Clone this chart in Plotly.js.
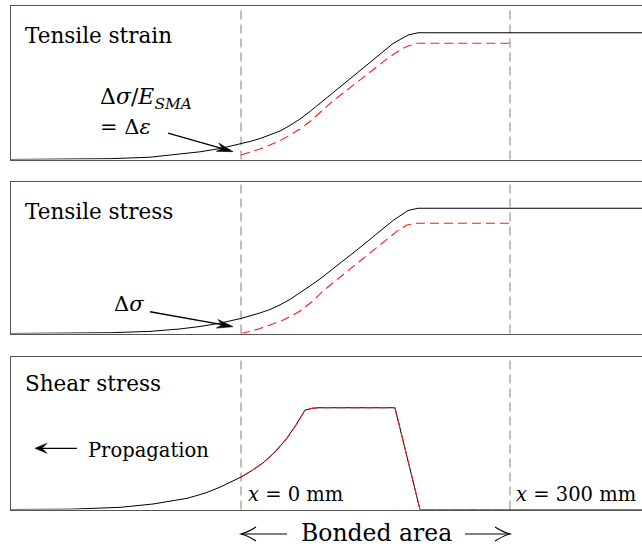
<!DOCTYPE html>
<html>
<head>
<meta charset="utf-8">
<script src="https://cdn.plot.ly/plotly-3.0.1.min.js"></script>
<style>
  html, body { margin: 0; padding: 0; background: #fff; }
  #chart { width: 642px; height: 549px; }
</style>
</head>
<body>
<div id="chart"></div>
<script>
// Position along the member in mm (x = 0 mm and x = 300 mm bound the bonded area)
const xRange = [-256.5, 447.2];
const bondStart = 0;
const bondEnd = 300;

// Tensile strain: whole member (black) and bonded region (red, dashed)
const strainTotalX = [-260, -201.9, -146.1, -101.5, -68.0, -45.7, -23.4, 0, 10.0, 21.2, 32.3, 43.5, 54.6, 65.8, 77.0, 88.1, 99.3, 140.5, 169.5, 177.3, 186.2, 197.4, 450];
const strainTotalY = [0, 0.13, 0.52, 1.49, 3.57, 5.0, 7.1, 10.1, 11.7, 13.6, 15.9, 18.5, 22.1, 26.3, 31.2, 36.4, 41.7, 61.4, 75.3, 77.9, 80.8, 82.3, 82.3];
const strainBondX = [0, 10.0, 21.2, 32.3, 43.5, 54.6, 65.8, 77.0, 88.1, 102.6, 140.5, 162.8, 177.3, 185.1, 196.3, 300];
const strainBondY = [2.9, 4.7, 6.8, 9.4, 12.3, 15.8, 19.8, 24.7, 30.5, 38.0, 55.2, 65.3, 71.1, 73.4, 75.5, 75.5];

// Tensile stress
const stressTotalX = [-260, -201.9, -146.1, -101.5, -68.0, -45.7, -23.4, 0, 10.0, 21.2, 32.3, 43.5, 54.6, 65.8, 77.0, 88.1, 129.4, 169.5, 177.3, 186.2, 197.4, 450];
const stressTotalY = [0, 0.13, 0.5, 1.4, 3.0, 4.6, 6.8, 9.9, 11.5, 13.5, 15.8, 18.8, 22.4, 26.6, 31.3, 35.9, 55.0, 74.3, 77.3, 80.9, 82.4, 82.4];
const stressBondX = [0, 10.0, 21.2, 32.3, 43.5, 54.6, 65.8, 80.3, 91.5, 132.7, 175.1, 185.1, 196.3, 300];
const stressBondY = [0, 1.3, 3.3, 5.4, 7.9, 11.0, 14.8, 21.4, 28.0, 47.7, 67.8, 71.4, 72.5, 72.5];

// Shear stress
const shearTotalX = [-260, -190.7, -134.9, -98.1, -60.2, -40.1, -23.4, 0, 12.3, 24.5, 37.9, 51.3, 61.3, 71.4, 79.2, 85.9, 171.7, 199.6, 450];
const shearTotalY = [0, 0.2, 1.4, 3.6, 7.3, 10.7, 14.6, 21.2, 25.5, 30.4, 37.6, 46.7, 55.2, 65.0, 66.1, 66.5, 66.5, 0, 0];
const shearBondX = [0, 12.3, 24.5, 37.9, 51.3, 61.3, 71.4, 79.2, 85.9, 171.7, 199.6, 300];
const shearBondY = [21.2, 25.5, 30.4, 37.6, 46.7, 55.2, 65.0, 66.1, 66.5, 66.5, 0, 0];

// Pointer arrows: head and tail in data units of their panel
const strainPointer = { head: [-8.9, 5.1], tail: [-81.4, 17.2] };
const stressPointer = { head: [-8.9, 4.5], tail: [-101.5, 14.3] };

// Labels
const panelTitles = ['Tensile strain', 'Tensile stress', 'Shear stress'];
const strainLabel1 = 'Δ<i>σ</i>/<i>E</i><sub><i>SMA</i></sub>';
const strainLabel2 = '= Δ<i>ε</i>';
const stressLabel = 'Δ<i>σ</i>';
const propagationLabel = 'Propagation';
const startLabel = '<i>x</i> = 0 mm';
const endLabel = '<i>x</i> = 300 mm';
const bondedLabel = 'Bonded area';

const SERIF = '"DejaVu Serif", serif';
const black = '#000000';
const red = '#ff1a1a';

function totalTrace(x, y, xa, ya) {
  return { x, y, xaxis: xa, yaxis: ya, type: 'scatter', mode: 'lines',
           line: { color: black, width: 1 }, hoverinfo: 'skip', showlegend: false };
}
function bondTrace(x, y, xa, ya) {
  return { x, y, xaxis: xa, yaxis: ya, type: 'scatter', mode: 'lines',
           line: { color: red, width: 1.1, dash: '9px,5px' }, hoverinfo: 'skip', showlegend: false };
}

const data = [
  totalTrace(strainTotalX, strainTotalY, 'x', 'y'),
  bondTrace(strainBondX, strainBondY, 'x', 'y'),
  totalTrace(stressTotalX, stressTotalY, 'x2', 'y2'),
  bondTrace(stressBondX, stressBondY, 'x2', 'y2'),
  totalTrace(shearTotalX, shearTotalY, 'x3', 'y3'),
  bondTrace(shearBondX, shearBondY, 'x3', 'y3')
];

const W = 642, H = 549, ML = 11;
const domains = [
  [1 - 159.5 / H, 1 - 5.5 / H],
  [1 - 333.5 / H, 1 - 181.5 / H],
  [1 - 509.5 / H, 1 - 356.5 / H]
];

function xAxis(anchor, matches) {
  const a = { range: xRange, anchor, showline: true, mirror: true, linecolor: '#555', linewidth: 1,
              showgrid: false, zeroline: false, showticklabels: false, ticks: '', fixedrange: true };
  if (matches) a.matches = matches;
  return a;
}
function yAxis(anchor, domain) {
  return { range: [0, 100], domain, anchor, showline: true, mirror: false, linecolor: '#555', linewidth: 1,
           showgrid: false, zeroline: false, showticklabels: false, ticks: '', fixedrange: true };
}

// Dashed boundaries of the bonded area in every panel
const shapes = [];
['y', 'y2', 'y3'].forEach((ya, i) => {
  const xa = ['x', 'x2', 'x3'][i];
  [bondStart, bondEnd].forEach(xv => {
    shapes.push({ type: 'line', xref: xa, yref: ya + ' domain', x0: xv, x1: xv, y0: 0, y1: 1,
                  line: { color: '#808080', width: 1, dash: '9px,5px' }, layer: 'below' });
  });
});

// Arrow drawn in pixel offsets around its head; (vx, vy) points from head to tail, y up
function addArrow(xref, yref, hx, hy, vx, vy, opt) {
  const L = Math.hypot(vx, vy);
  const ux = vx / L, uy = vy / L;
  const nx = -uy, ny = ux;
  const f = n => n.toFixed(2);
  const base = { type: 'path', xref, yref, xsizemode: 'pixel', ysizemode: 'pixel',
                 xanchor: hx, yanchor: hy, layer: 'above' };
  const shaftStart = opt.open ? 0 : opt.notch;
  shapes.push(Object.assign({}, base, {
    path: `M${f(ux * shaftStart)},${f(uy * shaftStart)} L${f(vx)},${f(vy)}`,
    line: { color: black, width: opt.width }
  }));
  const bx1 = ux * opt.len + nx * opt.half, by1 = uy * opt.len + ny * opt.half;
  const bx2 = ux * opt.len - nx * opt.half, by2 = uy * opt.len - ny * opt.half;
  if (opt.open) {
    const cx1 = ux * opt.len * 0.45 + nx * opt.half * 0.25, cy1 = uy * opt.len * 0.45 + ny * opt.half * 0.25;
    const cx2 = ux * opt.len * 0.45 - nx * opt.half * 0.25, cy2 = uy * opt.len * 0.45 - ny * opt.half * 0.25;
    shapes.push(Object.assign({}, base, {
      path: `M${f(bx1)},${f(by1)} Q${f(cx1)},${f(cy1)} 0,0 Q${f(cx2)},${f(cy2)} ${f(bx2)},${f(by2)}`,
      line: { color: black, width: opt.width }
    }));
  } else {
    const mx = ux * opt.notch, my = uy * opt.notch;
    shapes.push(Object.assign({}, base, {
      path: `M0,0 L${f(bx1)},${f(by1)} L${f(mx)},${f(my)} L${f(bx2)},${f(by2)} Z`,
      line: { color: black, width: 0.6 }, fillcolor: black
    }));
  }
}

const sx = (W - ML) / (xRange[1] - xRange[0]);
const syOf = d => (d[1] - d[0]) * H / 100;
const stealth = { len: 16, half: 4.3, notch: 11, width: 1.3 };

addArrow('x', 'y', strainPointer.head[0], strainPointer.head[1],
         (strainPointer.tail[0] - strainPointer.head[0]) * sx,
         (strainPointer.tail[1] - strainPointer.head[1]) * syOf(domains[0]), stealth);
addArrow('x2', 'y2', stressPointer.head[0], stressPointer.head[1],
         (stressPointer.tail[0] - stressPointer.head[0]) * sx,
         (stressPointer.tail[1] - stressPointer.head[1]) * syOf(domains[1]), stealth);

const px = v => (v - ML) / (W - ML);
const py = v => 1 - v / H;

// Propagation direction and the bonded-area span
addArrow('paper', 'paper', px(35), py(448.3), 42, 0, { len: 12, half: 5, notch: 7, width: 1.2 });
addArrow('x3', 'paper', bondStart, py(534), 46, 0, { open: true, len: 15, half: 7, width: 1.2 });
addArrow('x3', 'paper', bondEnd, py(534), -45, 0, { open: true, len: 15, half: 7, width: 1.2 });

const textFont = size => ({ family: SERIF, size, color: black });
const annotations = [];
// Panel titles
[36, 211, 383].forEach((yy, i) => {
  annotations.push({ xref: 'paper', yref: 'paper', x: px(23), y: py(yy), xanchor: 'left', yanchor: 'middle',
                     text: panelTitles[i], showarrow: false, font: textFont(21.5) });
});
annotations.push({ xref: 'paper', yref: 'paper', x: px(98), y: py(99), xanchor: 'left', yanchor: 'middle',
                   text: strainLabel1, showarrow: false, font: textFont(22) });
annotations.push({ xref: 'paper', yref: 'paper', x: px(98), y: py(127), xanchor: 'left', yanchor: 'middle',
                   text: strainLabel2, showarrow: false, font: textFont(21) });
annotations.push({ xref: 'paper', yref: 'paper', x: px(112), y: py(304), xanchor: 'left', yanchor: 'middle',
                   text: stressLabel, showarrow: false, font: textFont(21) });
annotations.push({ xref: 'paper', yref: 'paper', x: px(86), y: py(450), xanchor: 'left', yanchor: 'middle',
                   text: propagationLabel, showarrow: false, font: textFont(19.5) });
annotations.push({ xref: 'paper', yref: 'paper', x: px(246), y: py(494), xanchor: 'left', yanchor: 'middle',
                   text: startLabel, showarrow: false, font: textFont(19.5) });
annotations.push({ xref: 'paper', yref: 'paper', x: px(514), y: py(494), xanchor: 'left', yanchor: 'middle',
                   text: endLabel, showarrow: false, font: textFont(19.5) });
annotations.push({ xref: 'paper', yref: 'paper', x: px(376.7), y: py(533), xanchor: 'center', yanchor: 'middle',
                   text: bondedLabel, showarrow: false, font: textFont(23.5) });

const layout = {
  width: W, height: H,
  margin: { l: ML, r: 0, t: 0, b: 0 },
  paper_bgcolor: '#ffffff', plot_bgcolor: '#ffffff',
  showlegend: false,
  xaxis: xAxis('y'),
  xaxis2: xAxis('y2', 'x'),
  xaxis3: xAxis('y3', 'x'),
  yaxis: yAxis('x', domains[0]),
  yaxis2: yAxis('x2', domains[1]),
  yaxis3: yAxis('x3', domains[2]),
  shapes, annotations
};

Plotly.newPlot('chart', data, layout, { displayModeBar: false, staticPlot: true });
</script>
</body>
</html>
